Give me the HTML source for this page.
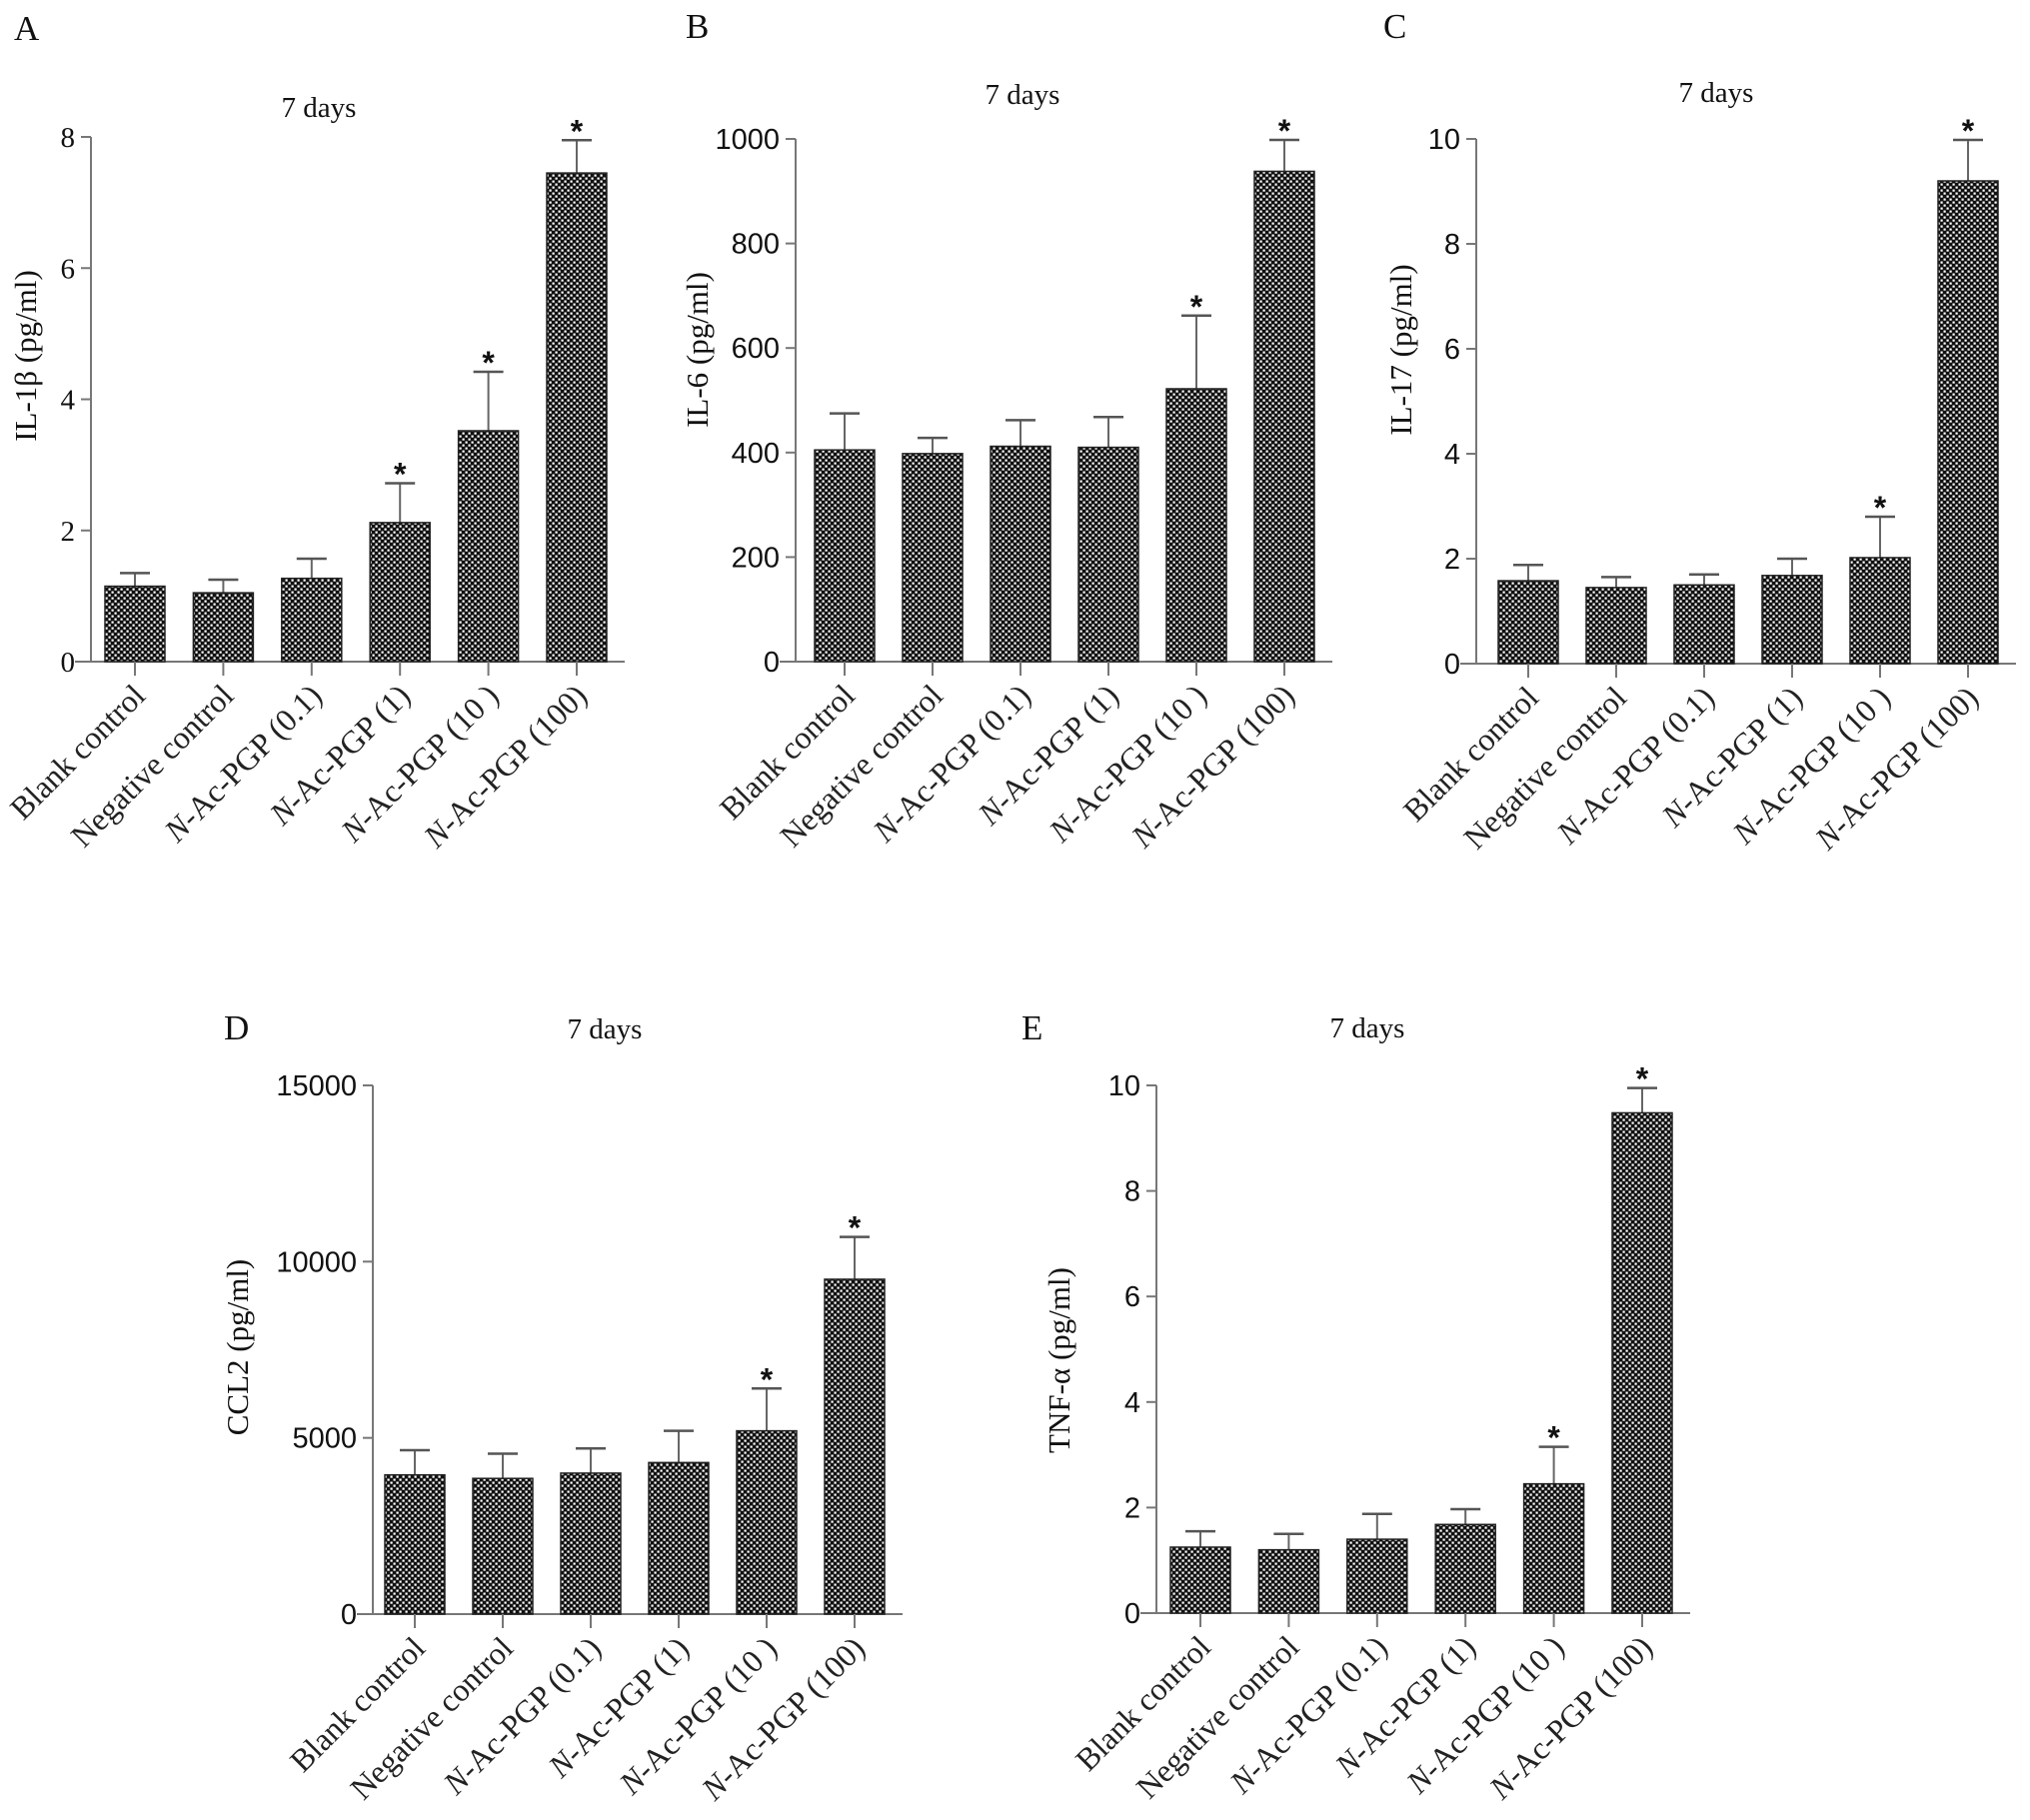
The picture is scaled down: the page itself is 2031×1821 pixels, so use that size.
<!DOCTYPE html>
<html><head><meta charset="utf-8"><style>
html,body{margin:0;padding:0;background:#fff;}
svg{display:block;}
</style></head><body>
<svg id="fig" width="2031" height="1821" viewBox="0 0 2031 1821" xmlns="http://www.w3.org/2000/svg">
<defs>
<pattern id="chk" width="6" height="6" patternUnits="userSpaceOnUse">
<rect width="6" height="6" fill="#111"/>
<rect x="0.5" y="0.5" width="2.2" height="2.2" fill="#fff"/>
<rect x="3.5" y="3.5" width="2.2" height="2.2" fill="#fff"/>
</pattern>
</defs>
</svg>
<script>
const categories = ["Blank control","Negative control","N-Ac-PGP (0.1)","N-Ac-PGP (1)","N-Ac-PGP (10 )","N-Ac-PGP (100)"];
const valuesA = [1.15,1.05,1.27,2.12,3.52,7.45];
const errorsA = [1.35,1.25,1.57,2.72,4.42,7.95];
const starsA = [false,false,false,true,true,true];
const ticksA = [0,2,4,6,8];
const valuesB = [405,398,412,410,522,938];
const errorsB = [475,428,462,468,662,998];
const starsB = [false,false,false,false,true,true];
const ticksB = [0,200,400,600,800,1000];
const valuesC = [1.58,1.45,1.5,1.68,2.02,9.2];
const errorsC = [1.88,1.65,1.7,2.0,2.8,9.98];
const starsC = [false,false,false,false,true,true];
const ticksC = [0,2,4,6,8,10];
const valuesD = [3950,3850,4000,4300,5200,9500];
const errorsD = [4650,4550,4700,5200,6400,10700];
const starsD = [false,false,false,false,true,true];
const ticksD = [0,5000,10000,15000];
const valuesE = [1.25,1.2,1.4,1.68,2.45,9.48];
const errorsE = [1.55,1.5,1.88,1.97,3.15,9.95];
const starsE = [false,false,false,false,true,true];
const ticksE = [0,2,4,6,8,10];

const svg = document.getElementById('fig');
const NS = 'http://www.w3.org/2000/svg';
function mk(tag, attrs, parent){
  const e = document.createElementNS(NS, tag);
  for (const k in attrs) e.setAttribute(k, attrs[k]);
  (parent||svg).appendChild(e);
  return e;
}
function panel(cfg, values, errors, stars, ticks){
  const g = mk('g', {});
  
  
  const yScale = v => cfg.y0 - (v / cfg.ymax) * (cfg.y0 - cfg.ytop);
  const xCenter = i => cfg.x1 + i * cfg.step;
  const letter = mk('text', {x: cfg.lx, y: cfg.ly, 'font-family': 'Liberation Serif, serif', 'font-size': 35, fill: '#111'}, g);
  letter.textContent = cfg.id;
  
  
  const title = mk('text', {x: cfg.tx, y: cfg.ty, 'text-anchor': 'middle', 'font-family': 'Liberation Serif, serif', 'font-size': 29, fill: '#111'}, g);
  title.textContent = '7 days';
  
  
  const yl = mk('text', {x: 0, y: 0, transform: `translate(${cfg.ylx},${cfg.yly}) rotate(-90)`, 'text-anchor': 'middle', 'font-family': 'Liberation Serif, serif', 'font-size': 31, fill: '#111'}, g);
  yl.textContent = cfg.ylabel;
  
  
  const ya = mk('line', {x1: cfg.ax, x2: cfg.ax, y1: cfg.ytop, y2: cfg.y0, stroke: '#777', 'stroke-width': 2}, g);
  
  
  const xa = mk('line', {x1: cfg.ax - 16, x2: xCenter(values.length - 1) + 48, y1: cfg.y0, y2: cfg.y0, stroke: '#777', 'stroke-width': 2}, g);
  
  
  ticks.forEach(t => {
    const y = yScale(t);
    const tl = mk('line', {x1: cfg.ax - 10, x2: cfg.ax, y1: y, y2: y, stroke: '#777', 'stroke-width': 2}, g);
    
    
    const tt = mk('text', {x: cfg.ax - 16, y: y + 10, 'text-anchor': 'end', 'font-family': cfg.tickFont, 'font-size': 29, fill: '#111'}, g);
    tt.textContent = t;
    
    
  });
  values.forEach((v, i) => {
    const cx = xCenter(i);
    const eTop = yScale(errors[i]);
    const el = mk('line', {x1: cx, x2: cx, y1: eTop, y2: yScale(v), stroke: '#666', 'stroke-width': 2}, g);
    
    
    const ec = mk('line', {x1: cx - 15, x2: cx + 15, y1: eTop, y2: eTop, stroke: '#555', 'stroke-width': 2.5}, g);
    
    
    const b = mk('rect', {x: cx - 30, y: yScale(v), width: 60, height: cfg.y0 - yScale(v), fill: 'url(#chk)', stroke: '#222', 'stroke-width': 1.5}, g);
    
    
    const xt = mk('line', {x1: cx, x2: cx, y1: cfg.y0, y2: cfg.y0 + 14, stroke: '#777', 'stroke-width': 2}, g);
    
    
    if (stars[i]) {
      const s = mk('text', {x: cx, y: eTop + 2, 'text-anchor': 'middle', 'font-family': 'Liberation Sans, sans-serif', 'font-size': 32, 'font-weight': 'bold', fill: '#111'}, g);
      s.textContent = '*';
      
      
    }
    const lab = mk('text', {x: 0, y: 0, transform: `translate(${cx + 12},${cfg.y0 + 36}) rotate(-45)`, 'text-anchor': 'end', 'font-family': 'Liberation Serif, serif', 'font-size': 32, fill: '#222'}, g);
    const c = categories[i];
    if (c.startsWith('N-')) {
      const t1 = mk('tspan', {'font-style': 'italic'}, lab); t1.textContent = 'N';
      const t2 = mk('tspan', {}, lab); t2.textContent = c.slice(1);
    } else lab.textContent = c;
    
    
  });
}
const serif = 'Liberation Serif, serif', sans = 'Liberation Sans, sans-serif';
panel({id:'A', lx:14, ly:40, tx:319, ty:117, ylx:36, yly:356, ylabel:'IL-1β  (pg/ml)', ax:91, y0:662, ytop:137, ymax:8, x1:135, step:88.4, tickFont: serif}, valuesA, errorsA, starsA, ticksA);
panel({id:'B', lx:686, ly:38, tx:1023, ty:104, ylx:708, yly:350, ylabel:'IL-6 (pg/ml)', ax:796, y0:662, ytop:139, ymax:1000, x1:845, step:88, tickFont: sans}, valuesB, errorsB, starsB, ticksB);
panel({id:'C', lx:1384, ly:38, tx:1717, ty:102, ylx:1412, yly:350, ylabel:'IL-17 (pg/ml)', ax:1477, y0:664, ytop:139, ymax:10, x1:1529, step:88, tickFont: sans}, valuesC, errorsC, starsC, ticksC);
panel({id:'D', lx:224, ly:1040, tx:605, ty:1039, ylx:248, yly:1348, ylabel:'CCL2 (pg/ml)', ax:373, y0:1615, ytop:1086, ymax:15000, x1:415, step:88, tickFont: sans}, valuesD, errorsD, starsD, ticksD);
panel({id:'E', lx:1022, ly:1040, tx:1368, ty:1038, ylx:1070, yly:1361, ylabel:'TNF-α (pg/ml)', ax:1157, y0:1614, ytop:1086, ymax:10, x1:1201, step:88.4, tickFont: sans}, valuesE, errorsE, starsE, ticksE);
</script>
</body></html>
